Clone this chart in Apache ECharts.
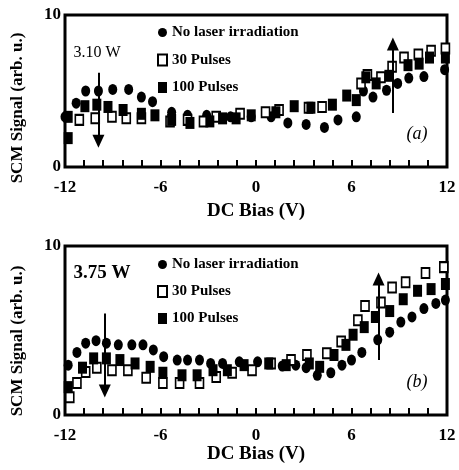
<!DOCTYPE html>
<html>
<head>
<meta charset="utf-8">
<script src="https://cdn.jsdelivr.net/npm/echarts@6/dist/echarts.min.js"></script>
<style>
  html, body { margin: 0; padding: 0; background: #fff; }
  #chart { width: 459px; height: 470px; }
</style>
</head>
<body>
<div id="chart"></div>
<script>
// series names
var names = ['No laser irradiation', '30 Pulses', '100 Pulses'];

// panel (a), 3.10 W : [DC bias (V), SCM signal]
var noLaserA = [[-12,3.3],[-11.3,4.2],[-10.7,5.0],[-9.9,5.0],[-9.0,5.1],[-8.0,5.1],[-7.2,4.6],[-6.5,4.3],[-5.3,3.6],[-4.3,3.4],[-3.1,3.4],[-1.6,3.3],[-0.3,3.3],[0.95,3.3],[2.0,2.9],[3.15,2.8],[4.3,2.6],[5.15,3.1],[6.3,3.3],[6.75,5.0],[7.35,4.6],[8.2,5.05],[8.9,5.5],[9.6,5.85],[10.55,5.95],[11.85,6.4]];
var pulse30A = [[-11.1,3.1],[-10.1,3.2],[-9.05,3.3],[-8.15,3.2],[-7.2,3.2],[-5.4,3.0],[-4.3,3.1],[-3.3,3.0],[-2.5,3.3],[-1.0,3.5],[0.6,3.6],[1.45,3.75],[3.3,3.9],[4.15,3.95],[6.6,5.5],[7.0,6.05],[7.85,5.9],[8.55,6.6],[9.3,7.2],[10.2,7.4],[11.0,7.65],[11.9,7.8]];
var pulse100A = [[-11.8,1.9],[-11.8,3.3],[-10.75,4.0],[-10.0,4.1],[-9.3,3.95],[-8.35,3.75],[-7.2,3.5],[-6.35,3.4],[-5.3,3.1],[-4.15,2.9],[-2.9,3.0],[-2.1,3.2],[-1.25,3.2],[-0.3,3.4],[1.25,3.6],[2.4,4.0],[3.45,3.9],[4.8,4.1],[5.7,4.7],[6.3,4.4],[6.9,5.9],[7.55,5.5],[8.35,6.0],[9.55,6.7],[10.25,6.8],[10.9,7.2],[11.9,7.2]];

// panel (b), 3.75 W
var noLaserB = [[-11.8,2.95],[-11.25,3.7],[-10.7,4.25],[-10.05,4.4],[-9.4,4.25],[-8.65,4.15],[-7.8,4.15],[-7.1,4.15],[-6.45,3.85],[-5.8,3.45],[-4.95,3.25],[-4.3,3.25],[-3.55,3.25],[-2.85,3.05],[-2.1,3.05],[-1.05,3.15],[0.1,3.15],[1.65,2.9],[2.5,2.95],[3.15,2.8],[3.85,2.35],[4.7,2.5],[5.4,2.95],[6.0,3.25],[6.65,3.7],[7.65,4.45],[8.4,4.9],[9.1,5.5],[9.8,5.8],[10.55,6.3],[11.3,6.6],[11.9,6.8]];
var pulse30B = [[-11.7,1.05],[-11.25,1.9],[-10.7,2.55],[-10.0,2.8],[-9.05,2.65],[-8.05,2.65],[-6.9,2.2],[-5.85,1.9],[-4.8,1.9],[-3.55,1.9],[-2.5,2.25],[-1.5,2.5],[-0.25,2.65],[0.95,3.05],[2.2,3.25],[3.2,3.55],[4.45,3.65],[5.35,4.35],[6.4,5.6],[6.85,6.45],[7.85,6.65],[8.55,7.55],[9.4,7.85],[10.65,8.4],[11.8,8.75]];
var pulse100B = [[-11.8,1.65],[-10.9,2.8],[-10.2,3.35],[-9.4,3.35],[-8.55,3.25],[-7.6,3.05],[-6.65,2.85],[-5.85,2.5],[-4.65,2.35],[-3.7,2.35],[-2.7,2.65],[-1.8,2.65],[-0.75,2.95],[0.8,3.05],[1.9,2.95],[3.35,3.05],[4.0,2.85],[4.9,3.55],[5.65,4.15],[6.1,4.75],[6.8,5.2],[7.5,5.8],[8.4,6.15],[9.25,6.85],[10.15,7.35],[11.0,7.45],[11.9,7.75]];

// arrows: [start, end] in data units
var arrowsA = [[[-9.9,6.2],[-9.9,1.7]], [[8.6,3.55],[8.6,8.1]]];
var arrowsB = [[[-9.5,6.0],[-9.5,1.42]], [[7.7,3.25],[7.7,8.05]]];

// axis ticks / labels
var xMin = -12, xMax = 12, xStep = 1.2, xLabelEvery = 6;
var yMin = 0, yMax = 10;

var serif = 'Liberation Serif';

var myChart = echarts.init(document.getElementById('chart'));

function xAxisFor(idx, gap) {
  return {
    type: 'value', gridIndex: idx, min: xMin, max: xMax, interval: xStep,
    name: 'DC Bias (V)', nameLocation: 'middle', nameGap: gap,
    nameTextStyle: { color: '#000', fontFamily: serif, fontWeight: 'bold', fontSize: 19 },
    axisLine: { show: false },
    axisTick: { show: true, inside: true, length: 7, lineStyle: { color: '#000', width: 2 } },
    axisLabel: {
      color: '#000', fontFamily: serif, fontWeight: 'bold', fontSize: 17, margin: 12,
      formatter: function (v) {
        var r = v / xLabelEvery;
        return Math.abs(r - Math.round(r)) < 1e-6 ? String(Math.round(v)) : '';
      }
    },
    splitLine: { show: false }
  };
}

function yAxisFor(idx) {
  return {
    type: 'value', gridIndex: idx, min: yMin, max: yMax, interval: yMax - yMin,
    axisLine: { show: false },
    axisTick: { show: false },
    axisLabel: { color: '#000', fontFamily: serif, fontWeight: 'bold', fontSize: 17, margin: 4 },
    splitLine: { show: false }
  };
}

function scatterSet(idx, d0, d1, d2) {
  return [
    { name: names[0], type: 'scatter', xAxisIndex: idx, yAxisIndex: idx, data: d0,
      symbol: 'circle', symbolSize: [9, 11], itemStyle: { color: '#000', opacity: 1 } },
    { name: names[1], type: 'scatter', xAxisIndex: idx, yAxisIndex: idx, data: d1,
      symbol: 'rect', symbolSize: [8, 10],
      itemStyle: { color: '#fff', borderColor: '#000', borderWidth: 1.8, opacity: 1 } },
    { name: names[2], type: 'scatter', xAxisIndex: idx, yAxisIndex: idx, data: d2,
      symbol: 'rect', symbolSize: [9, 12], itemStyle: { color: '#000', opacity: 1 } }
  ];
}

function arrowSeries(idx, arrows) {
  return {
    type: 'scatter', xAxisIndex: idx, yAxisIndex: idx, data: [], silent: true,
    markLine: {
      silent: true, animation: false,
      symbol: ['none', 'triangle'], symbolSize: [12, 13],
      label: { show: false },
      lineStyle: { color: '#000', width: 2, type: 'solid' },
      data: arrows.map(function (a) {
        return [{ coord: a[0] }, { coord: a[1] }];
      })
    }
  };
}

function legendFor(top, gap, weight) {
  return {
    data: names, orient: 'vertical', left: 157, top: top, padding: 0,
    itemGap: gap, itemWidth: 9, itemHeight: 11, selectedMode: false,
    textStyle: { color: '#000', fontFamily: serif, fontWeight: weight, fontSize: 15 }
  };
}

var option = {
  backgroundColor: '#fff',
  animation: false,
  grid: [
    { left: 65, top: 15, width: 382, height: 152, show: true, borderColor: '#000', borderWidth: 3, backgroundColor: 'transparent' },
    { left: 65, top: 246, width: 382, height: 169, show: true, borderColor: '#000', borderWidth: 3, backgroundColor: 'transparent' }
  ],
  legend: [legendFor(25, 12.5, 'bold'), legendFor(257, 12, 'bold')],
  xAxis: [xAxisFor(0, 35), xAxisFor(1, 27)],
  yAxis: [yAxisFor(0), yAxisFor(1)],
  series: [].concat(
    scatterSet(0, noLaserA, pulse30A, pulse100A),
    scatterSet(1, noLaserB, pulse30B, pulse100B),
    [arrowSeries(0, arrowsA), arrowSeries(1, arrowsB)]
  ),
  graphic: [
    { type: 'text', x: 18, y: 108, rotation: Math.PI / 2,
      style: { text: 'SCM Signal (arb. u.)', fill: '#000', font: 'bold 17px "Liberation Serif"', align: 'center', verticalAlign: 'middle' } },
    { type: 'text', x: 18, y: 341, rotation: Math.PI / 2,
      style: { text: 'SCM Signal (arb. u.)', fill: '#000', font: 'bold 17px "Liberation Serif"', align: 'center', verticalAlign: 'middle' } },
    { type: 'text', x: 97, y: 53,
      style: { text: '3.10 W', fill: '#000', font: '16px "Liberation Serif"', align: 'center', verticalAlign: 'middle' } },
    { type: 'text', x: 102, y: 273,
      style: { text: '3.75 W', fill: '#000', font: 'bold 19px "Liberation Serif"', align: 'center', verticalAlign: 'middle' } },
    { type: 'text', x: 417, y: 134,
      style: { text: '(a)', fill: '#000', font: 'italic 18px "Liberation Serif"', align: 'center', verticalAlign: 'middle' } },
    { type: 'text', x: 417, y: 382,
      style: { text: '(b)', fill: '#000', font: 'italic 18px "Liberation Serif"', align: 'center', verticalAlign: 'middle' } }
  ]
};

myChart.setOption(option);
window.addEventListener('resize', function () {
  myChart.resize();
});
</script>
</body>
</html>
